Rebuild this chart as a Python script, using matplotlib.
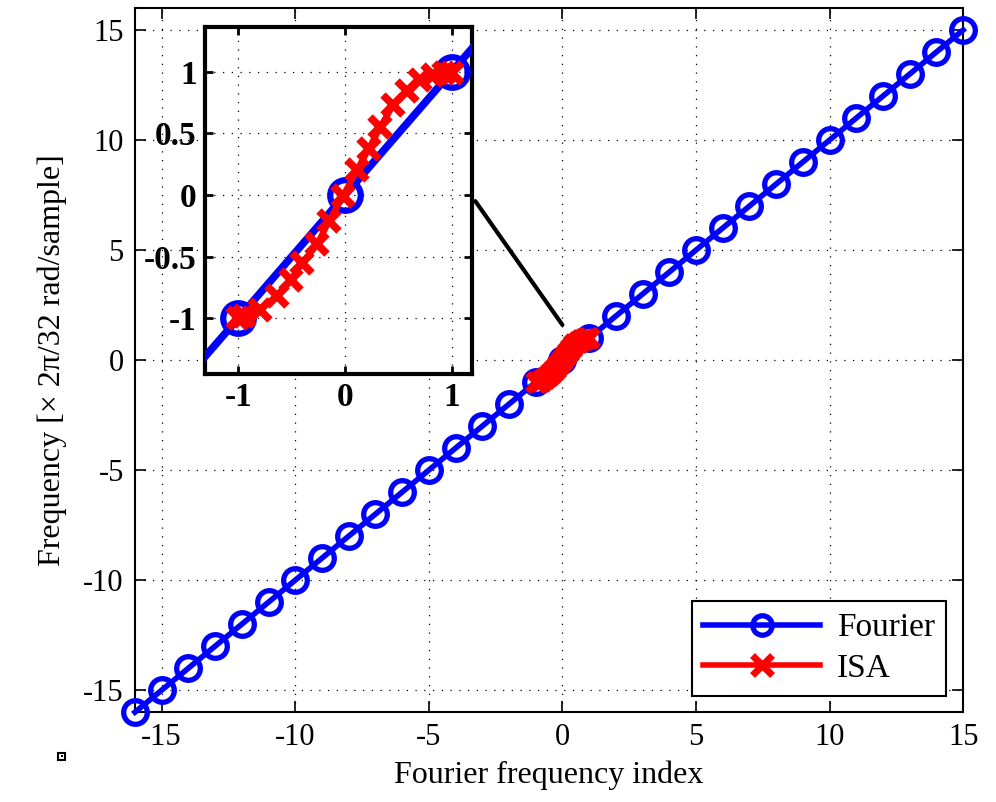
import matplotlib
matplotlib.use('Agg')
import matplotlib.pyplot as plt
from matplotlib.patches import ConnectionPatch, Rectangle

# data
fourier_idx = list(range(-16, 16))
fourier_freq = list(range(-16, 16))

isa_x = [-1.0, -0.95, -0.80, -0.64, -0.51, -0.40, -0.26, -0.15, -0.02,
         0.11, 0.22, 0.33, 0.45, 0.58, 0.70, 0.82, 0.93, 1.0]
isa_y = [-1.0, -0.98, -0.93, -0.82, -0.69, -0.55, -0.40, -0.21, -0.01,
         0.20, 0.37, 0.55, 0.73, 0.84, 0.93, 0.97, 0.99, 0.99]

main_ticks = [-15, -10, -5, 0, 5, 10, 15]
inset_xticks = [-1, 0, 1]
inset_yticks = [-1, -0.5, 0, 0.5, 1]
inset_yticklabels = ['-1', '-0.5', '0', '0.5', '1']

plt.rcParams['font.family'] = ['Liberation Serif', 'DejaVu Serif']
plt.rcParams['axes.unicode_minus'] = False

fig = plt.figure(figsize=(9.96, 8.02), dpi=100)
ax = fig.add_axes([0.1355, 0.112, 0.8315, 0.878])

grid_style = dict(color='black', linestyle=(0, (1, 6)), linewidth=0.9)

ax.plot(fourier_idx, fourier_freq, color='blue', linewidth=4, marker='o',
        markersize=17, markerfacecolor='none', markeredgewidth=3.8,
        markeredgecolor='blue', label='Fourier', zorder=3, clip_on=False)
ax.plot(isa_x, isa_y, color='red', linewidth=4, marker='x',
        markersize=13, markeredgewidth=5, label='ISA', zorder=4)

ax.set_xlim(-16, 15)
ax.set_ylim(-16, 16)
ax.set_xticks(main_ticks)
ax.set_yticks(main_ticks)
ax.grid(True, **grid_style)
ax.set_axisbelow(True)
ax.tick_params(direction='in', length=8, width=1.2, labelsize=22,
               top=True, right=True, pad=8)
for s in ax.spines.values():
    s.set_linewidth(1.5)
ax.set_xlabel('Fourier frequency index', fontsize=23, labelpad=6)
ax.set_ylabel('Frequency [\u00d7 2\u03c0/32 rad/sample]', fontsize=23,
              labelpad=12)

leg = ax.legend(loc='lower right', fontsize=24, handlelength=3.5,
                fancybox=False, framealpha=1, edgecolor='black',
                borderpad=0.35, labelspacing=0.3, handletextpad=0.5,
                borderaxespad=0.5)
leg.get_frame().set_linewidth(1.5)
for h in leg.legend_handles:
    h.set_markersize(14)

# inset zoom
axi = fig.add_axes([0.206, 0.534, 0.268, 0.432])
axi.plot(fourier_idx, fourier_freq, color='blue', linewidth=5.5, marker='o',
         markersize=22, markerfacecolor='none', markeredgewidth=4.5,
         markeredgecolor='blue', zorder=3)
axi.plot(isa_x, isa_y, color='red', linewidth=4.5, marker='x',
         markersize=14, markeredgewidth=5.5, zorder=4)
axi.set_xlim(-1.31, 1.19)
axi.set_ylim(-1.45, 1.36)
axi.set_xticks(inset_xticks)
axi.set_yticks(inset_yticks)
axi.set_yticklabels(inset_yticklabels)
axi.grid(True, **grid_style)
axi.set_axisbelow(True)
axi.tick_params(direction='in', length=6, width=2, labelsize=24,
                top=True, right=True, pad=6)
for lab in axi.get_xticklabels() + axi.get_yticklabels():
    lab.set_fontweight('bold')
for s in axi.spines.values():
    s.set_linewidth(3)

con = ConnectionPatch(xyA=(1.22, -0.05), coordsA=axi.transData,
                      xyB=(0.0, 1.6), coordsB=ax.transData,
                      color='black', linewidth=3)
fig.add_artist(con)

# small square mark at lower left
fig.add_artist(Rectangle((0.0585, 0.0525), 0.007, 0.0085, transform=fig.transFigure,
                         facecolor='white', edgecolor='black', linewidth=1.5))
fig.add_artist(Rectangle((0.061, 0.0555), 0.002, 0.0025, transform=fig.transFigure,
                         facecolor='black', edgecolor='none'))

fig.savefig('out.png', dpi=100)
